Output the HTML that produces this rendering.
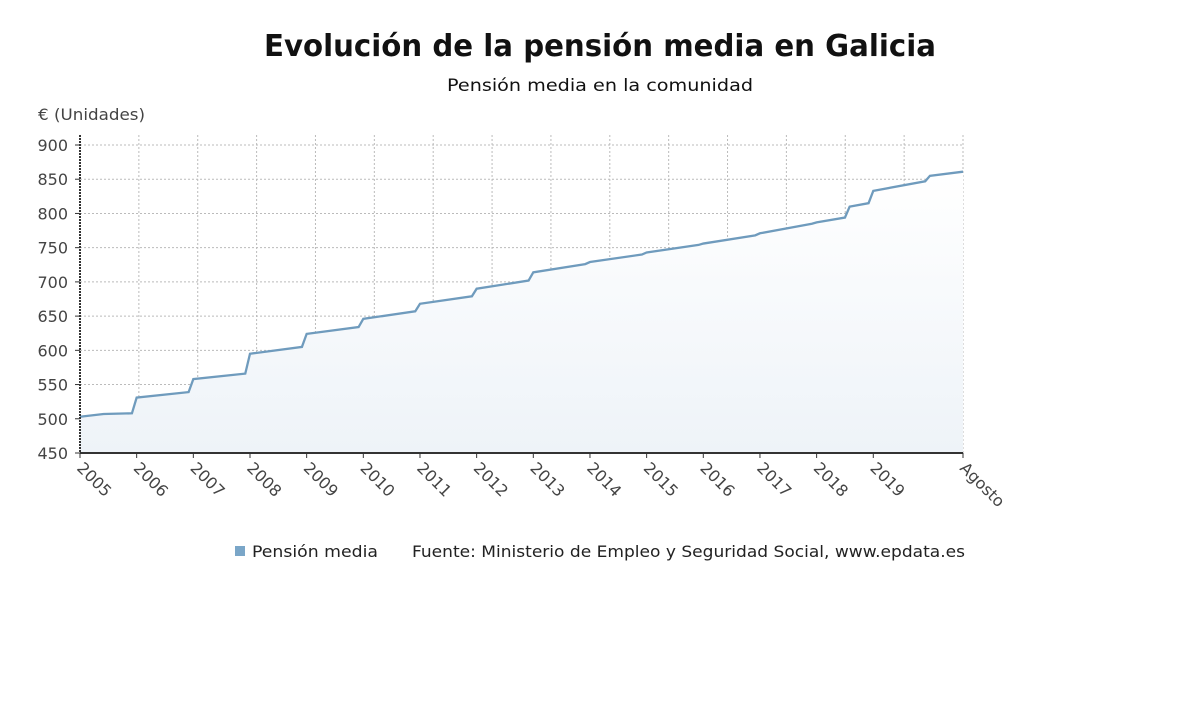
<!DOCTYPE html>
<html><head><meta charset="utf-8"><style>
body{margin:0;background:#fff;width:1200px;height:705px;overflow:hidden}
svg{display:block;font-family:"DejaVu Sans","Liberation Sans",sans-serif}
</style></head><body>
<svg id="chart" width="1200" height="705" viewBox="0 0 1200 705">
<defs><linearGradient id="fillg" x1="0" y1="0" x2="0" y2="1"><stop offset="0" stop-color="#ffffff"/><stop offset="1" stop-color="#eef3f8"/></linearGradient></defs>
<text x="600" y="56" text-anchor="middle" font-size="30" font-weight="bold" fill="#111" textLength="672" lengthAdjust="spacingAndGlyphs">Evolución de la pensión media en Galicia</text>
<text x="600" y="91" text-anchor="middle" font-size="17" fill="#111" textLength="306" lengthAdjust="spacingAndGlyphs">Pensión media en la comunidad</text>
<text x="38" y="120" font-size="16" fill="#444" textLength="107" lengthAdjust="spacingAndGlyphs">€ (Unidades)</text>
<g id="grid"></g>
<g id="marks"></g>
<g id="axes"></g>
<g>
<rect x="235" y="546" width="10" height="10" fill="#7aa6c8"/>
<text x="252" y="557" font-size="16" fill="#222" textLength="126" lengthAdjust="spacingAndGlyphs">Pensión media</text>
<text x="412" y="557" font-size="16" fill="#222" textLength="553" lengthAdjust="spacingAndGlyphs">Fuente: Ministerio de Empleo y Seguridad Social, www.epdata.es</text>
</g>
</svg>
<script>
const dates=["2005-01","2005-06","2005-12","2006-01","2006-12","2007-01","2007-12","2008-01","2008-12","2009-01","2009-12","2010-01","2010-12","2011-01","2011-12","2012-01","2012-12","2013-01","2013-12","2014-01","2014-12","2015-01","2015-12","2016-01","2016-12","2017-01","2017-12","2018-01","2018-07","2018-08","2018-12","2019-01","2019-12","2020-01","2020-08"];
const values=[503,507,508,531,539,558,566,595,605,624,634,646,657,668,679,690,702,714,726,729,740,743,754,756,768,771,785,787,794,810,815,833,847,855,861];
const yTicks=[450,500,550,600,650,700,750,800,850,900];
const xTickLabels=["2005","2006","2007","2008","2009","2010","2011","2012","2013","2014","2015","2016","2017","2018","2019","Agosto"];
const xTickDates=["2005-01","2006-01","2007-01","2008-01","2009-01","2010-01","2011-01","2012-01","2013-01","2014-01","2015-01","2016-01","2017-01","2018-01","2019-01","2020-08"];

const L=80,R=963,T=145,B=453,NS="http://www.w3.org/2000/svg";
function t(d){const [y,m]=d.split("-").map(Number);return y+(m-1)/12;}
const t0=t(dates[0]),t1=t(dates[dates.length-1]);
function x(d){return L+(t(d)-t0)/(t1-t0)*(R-L);}
function y(v){return B-(v-450)/(900-450)*(B-T);}
function el(tag,attrs,parent){const e=document.createElementNS(NS,tag);for(const k in attrs)e.setAttribute(k,attrs[k]);parent.appendChild(e);return e;}
const grid=document.getElementById("grid"),marks=document.getElementById("marks"),axes=document.getElementById("axes");
yTicks.forEach(v=>{
  const g=el("line",{x1:L,x2:R,y1:y(v),y2:y(v),stroke:"#bbb","stroke-dasharray":"2,2"},grid);
  
  
  const tk=el("line",{x1:L-5,x2:L,y1:y(v),y2:y(v),stroke:"#333"},axes);
  
  
  const tx=el("text",{x:L-12,y:y(v)+6,"text-anchor":"end","font-size":"16",fill:"#444"},axes);
  tx.textContent=v;
  
  
});
for(let i=1;i<=15;i++){
  const gx=L+i*(R-L)/15;
  const g=el("line",{x1:gx,x2:gx,y1:T-10,y2:B,stroke:"#bbb","stroke-dasharray":"2,2"},grid);
  
  
}
let pts=dates.map((d,i)=>[x(d),y(values[i])]);
let area="M"+pts[0][0]+","+B+" "+pts.map(p=>"L"+p[0]+","+p[1]).join(" ")+" L"+pts[pts.length-1][0]+","+B+"Z";
const a=el("path",{d:area,fill:"url(#fillg)"},marks);


const ln=el("path",{d:"M"+pts.map(p=>p[0]+","+p[1]).join(" L"),fill:"none",stroke:"#6f9bbd","stroke-width":"2.3"},marks);


const ya=el("line",{x1:L,x2:L,y1:T-10,y2:B,stroke:"#333","stroke-width":"2","stroke-dasharray":"2,1"},axes);


const xa=el("line",{x1:L,x2:R,y1:B,y2:B,stroke:"#333","stroke-width":"2"},axes);


xTickDates.forEach((d,i)=>{
  const xx=x(d);
  const tk=el("line",{x1:xx,x2:xx,y1:B,y2:B+5,stroke:"#333"},axes);
  
  
  const tx=el("text",{x:xx-4,y:B+16,"font-size":"16",fill:"#444",transform:"rotate(45 "+(xx-4)+" "+(B+16)+")"},axes);
  tx.textContent=xTickLabels[i];
  
  
});
</script>
</body></html>
